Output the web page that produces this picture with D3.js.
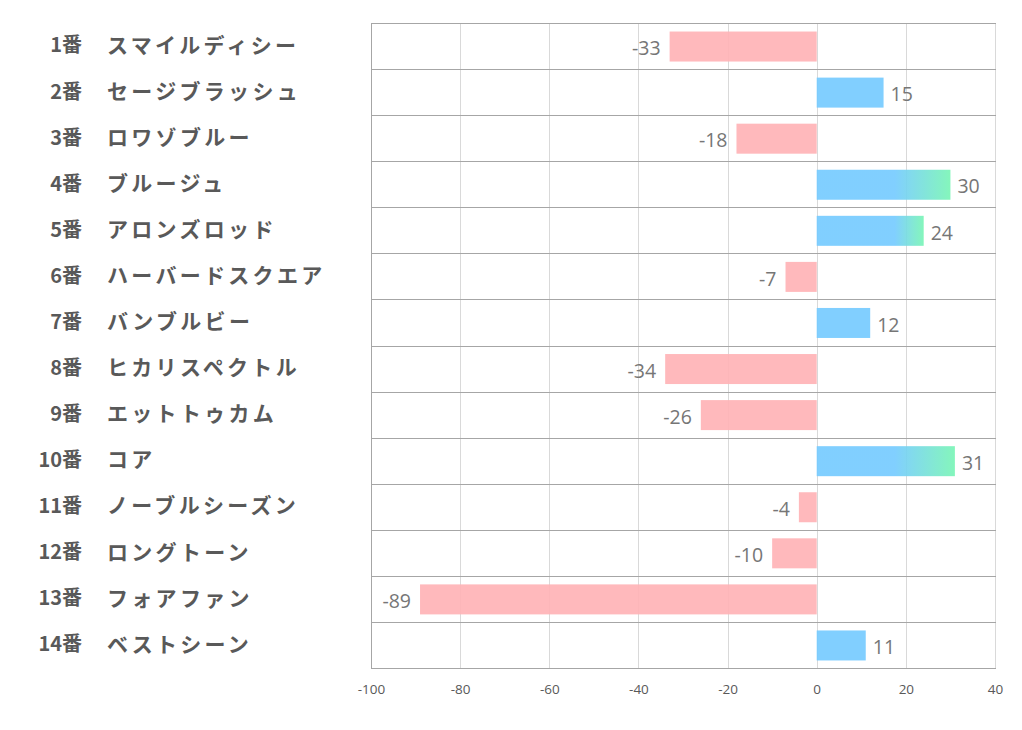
<!DOCTYPE html>
<html><head><meta charset="utf-8">
<script src="https://cdn.jsdelivr.net/npm/d3@7"></script>
<style>body{margin:0;background:#fff;}svg{display:block;}</style>
</head><body>
<svg id="c" width="1022" height="730"></svg>
<script>
const numbers = ["1番","2番","3番","4番","5番","6番","7番","8番","9番","10番","11番","12番","13番","14番"];
const names = ["スマイルディシー","セージブラッシュ","ロワゾブルー","ブルージュ","アロンズロッド","ハーバードスクエア","バンブルビー","ヒカリスペクトル","エットトゥカム","コア","ノーブルシーズン","ロングトーン","フォアファン","ベストシーン"];
const values = [-33,15,-18,30,24,-7,12,-34,-26,31,-4,-10,-89,11];
const xTicks = [-100,-80,-60,-40,-20,0,20,40];
const gradStart = 17.5;

(function(){
const svg = d3.select("#c");
const pL = 371, pR = 995, pT = 23, pB = 668;
const x = d3.scaleLinear().domain([-100,40]).range([pL,pR]);
const y = d3.scaleBand().domain(d3.range(values.length)).range([pT,pB]).paddingInner(0).paddingOuter(0);
const barH = 30;

svg.append("g").selectAll("line").data(xTicks).join("line")
  .attr("x1",d=>Math.round(x(d))+0.5).attr("x2",d=>Math.round(x(d))+0.5).attr("y1",pT).attr("y2",pB)
  .attr("stroke",d=>d===-100?"#a6a6a6":"#d9d9d9").attr("stroke-width",1);
const hl = d3.range(values.length+1).map(i=>pT + i*y.bandwidth());
svg.append("g").selectAll("line").data(hl).join("line")
  .attr("x1",pL).attr("x2",pR+1).attr("y1",d=>Math.round(d)+0.5).attr("y2",d=>Math.round(d)+0.5)
  .attr("stroke","#a6a6a6").attr("stroke-width",1);

const defs = svg.append("defs");
values.forEach((v,i)=>{
  if(v>gradStart){
    const g = defs.append("linearGradient").attr("id","g"+i).attr("gradientUnits","userSpaceOnUse")
      .attr("x1",x(gradStart)).attr("x2",x(v)).attr("y1",0).attr("y2",0);
    g.append("stop").attr("offset",0).attr("stop-color","#76cbff");
    g.append("stop").attr("offset",1).attr("stop-color","#7af5b6");
  }
});

svg.append("g").selectAll("rect").data(values).join("rect")
  .attr("x",d=>x(Math.min(0,d))).attr("width",d=>Math.abs(x(d)-x(0)))
  .attr("y",(d,i)=>y(i)+(y.bandwidth()-barH)/2+0.5).attr("height",barH)
  .attr("fill",(d,i)=>d<0?"#ffb3b6":(d>gradStart?`url(#g${i})`:"#76cbff"))
  .attr("fill-opacity",0.92);

svg.append("g").selectAll("text").data(values).join("text")
  .attr("x",d=>d<0?x(d)-9:x(d)+7)
  .attr("y",(d,i)=>y(i)+y.bandwidth()/2+4)
  .attr("text-anchor",d=>d<0?"end":"start")
  .attr("dominant-baseline","middle")
  .attr("font-family","'Open Sans','Noto Sans',sans-serif").attr("font-size",19.5)
  .attr("fill","#767676").text(d=>String(d));

const cat = svg.append("g");
cat.selectAll("text.num").data(numbers).join("text").attr("class","num")
  .attr("x",82).attr("y",(d,i)=>y(i)+y.bandwidth()/2+1)
  .attr("text-anchor","end").attr("dominant-baseline","middle")
  .attr("font-family","'Noto Sans CJK JP',sans-serif").attr("font-weight","bold").attr("font-size",20)
  .attr("fill","#595959").text(d=>d);
cat.selectAll("text.name").data(names).join("text").attr("class","name")
  .attr("x",107).attr("y",(d,i)=>y(i)+y.bandwidth()/2+1)
  .attr("text-anchor","start").attr("dominant-baseline","middle")
  .attr("font-family","'Noto Sans CJK JP',sans-serif").attr("font-weight","bold").attr("font-size",21)
  .attr("letter-spacing",3.3)
  .attr("fill","#595959").text(d=>d);

const ax = svg.append("g").attr("transform",`translate(0,${pB})`)
  .call(d3.axisBottom(x).tickValues(xTicks).tickSize(0).tickPadding(16).tickFormat(d=>String(d)));
ax.select(".domain").remove();
ax.selectAll("text").attr("font-family","'Open Sans','Noto Sans',sans-serif").attr("font-size",13.5).attr("fill","#595959");
})();
</script>
</body></html>
